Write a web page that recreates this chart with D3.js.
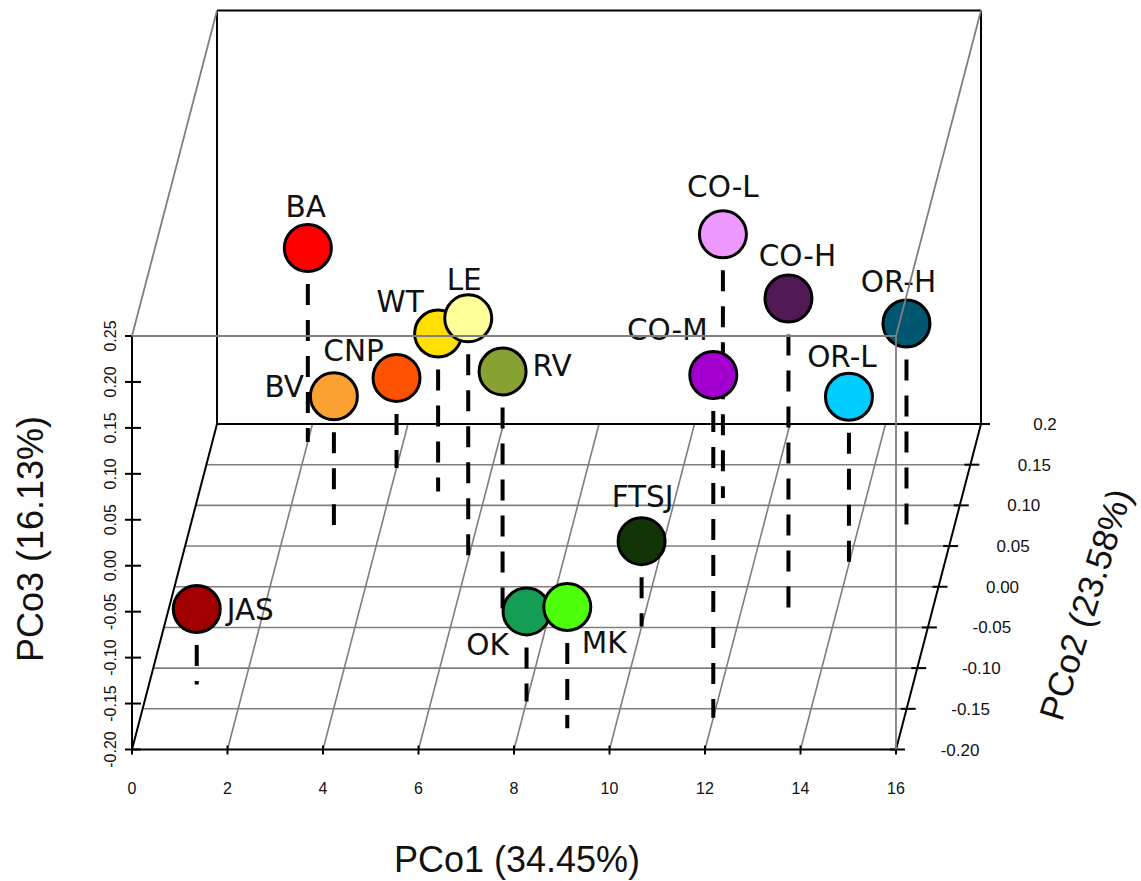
<!DOCTYPE html>
<html>
<head>
<meta charset="utf-8">
<script src="https://cdn.jsdelivr.net/npm/d3@7"></script>
<style>
  html, body { margin: 0; padding: 0; background: #fff; }
  .tick-label { font-family: "Liberation Sans", Arial, sans-serif; font-size: 16px; fill: #111; }
  .tick-label--y { font-size: 17px; }
  .axis-title { font-family: "Liberation Sans", Arial, sans-serif; font-size: 36px; fill: #111; }
  .site-label { font-family: "DejaVu Sans", Verdana, sans-serif; font-size: 29.5px; fill: #111; }
</style>
</head>
<body>
<div id="chart"></div>
<script>
const WIDTH = 1141;
const HEIGHT = 881;

// PCoA scores per site (x = PCo1, depth = PCo2, height = PCo3)
const sites = ["JAS", "BA", "BV", "CNP", "WT", "LE", "RV", "OK", "MK", "FTSJ", "CO-L", "CO-M", "CO-H", "OR-L", "OR-H"];
const pco1 = [1, 2, 3, 4, 5, 6, 7, 8, 9, 10, 11, 12, 13, 14, 15];
const pco2 = [-0.120, 0.178, 0.076, 0.146, 0.117, 0.034, -0.029, -0.141, -0.174, -0.049, 0.109, -0.161, -0.032, 0.028, 0.074];
const pco3 = [-0.118, 0.011, -0.060, -0.102, -0.028, 0.062, 0.060, -0.102, -0.068, -0.107, 0.087, 0.173, 0.142, -0.018, 0.021];
const siteColors = ["#a10000", "#ff0000", "#fba132", "#ff5200", "#ffe000", "#ffff99", "#88a133", "#149e54", "#4dff0a", "#123507", "#ee99ff", "#a300d0", "#511a56", "#00ccff", "#025770"];

const xTicks = [0, 2, 4, 6, 8, 10, 12, 14, 16];
const yTicks = [-0.20, -0.15, -0.10, -0.05, 0.00, 0.05, 0.10, 0.15, 0.20];
const yTickLabels = ["-0.20", "-0.15", "-0.10", "-0.05", "0.00", "0.05", "0.10", "0.15", "0.2"];
const zTicks = [-0.20, -0.15, -0.10, -0.05, 0.00, 0.05, 0.10, 0.15, 0.20, 0.25];
const zTickLabels = ["-0.20", "-0.15", "-0.10", "-0.05", "0.00", "0.05", "0.10", "0.15", "0.20", "0.25"];

// label placement relative to circle centre: [dx, dy, anchor]
const LABEL_POS = {
  "JAS": [30, 11, "start"], "BA": [-2, -31, "middle"], "BV": [-30, 1, "end"],
  "CNP": [-43, -17, "middle"], "WT": [-38, -21, "middle"], "LE": [-4, -28, "middle"],
  "RV": [30, 5, "start"], "OK": [-39, 44, "middle"], "MK": [37, 46, "middle"],
  "FTSJ": [1, -34, "middle"], "CO-L": [0, -37, "middle"], "CO-M": [-46, -35, "middle"],
  "CO-H": [9, -33, "middle"], "OR-L": [-7, -30, "middle"], "OR-H": [-8, -31, "middle"]
};

// box geometry
const X0 = 132, X1 = 896, FLOOR = 749.5, DEPTH_DX = 85, DEPTH_DY = 325.5, Z_H = 413.5;
const R = 23.5;

const x = d3.scaleLinear().domain([0, 16]).range([X0, X1]);
const depth = d3.scaleLinear().domain([-0.2, 0.2]).range([0, 1]);
const z = d3.scaleLinear().domain([-0.2, 0.25]).range([0, Z_H]);

function proj(px, py, pz) {
  const t = depth(py);
  return [x(px) + t * DEPTH_DX, FLOOR - t * DEPTH_DY - z(pz)];
}

const svg = d3.select("#chart").append("svg")
  .attr("width", WIDTH).attr("height", HEIGHT)
  .attr("viewBox", `0 0 ${WIDTH} ${HEIGHT}`);

svg.append("rect").attr("width", WIDTH).attr("height", HEIGHT).attr("fill", "#fff");

function seg(g, a, b, stroke, w) {
  g.append("line")
    .attr("x1", a[0]).attr("y1", a[1]).attr("x2", b[0]).attr("y2", b[1])
    .attr("stroke", stroke).attr("stroke-width", w);
}

const GRAY = "#7f7f7f";
const zMin = -0.2, zMax = 0.25, yMin = -0.2, yMax = 0.2;

// —— floor grid ——
const grid = svg.append("g");
yTicks.slice(1, -1).forEach(v => seg(grid, proj(0, v, zMin), proj(16, v, zMin), GRAY, 1.6));
xTicks.slice(1, -1).forEach(v => seg(grid, proj(v, yMin, zMin), proj(v, yMax, zMin), GRAY, 1.6));

// —— back box + axes (black) ——
const box = svg.append("g");
seg(box, proj(0, yMin, zMin), proj(16, yMin, zMin), "#000", 2.2);
seg(box, proj(0, yMin, zMin), proj(0, yMax, zMin), "#000", 2);
seg(box, proj(16, yMin, zMin), proj(16, yMax, zMin), "#000", 2);
seg(box, proj(0, yMax, zMin), proj(16, yMax, zMin), "#000", 2);
seg(box, proj(0, yMax, zMin), proj(0, yMax, zMax), "#000", 2);
seg(box, proj(16, yMax, zMin), proj(16, yMax, zMax), "#000", 2);
seg(box, proj(0, yMax, zMax), proj(16, yMax, zMax), "#000", 2.2);
seg(box, proj(0, yMin, zMin), proj(0, yMin, zMax), "#000", 2);

// x ticks + labels
const xAxis = svg.append("g");
xTicks.forEach(v => {
  const p = proj(v, yMin, zMin);
  seg(xAxis, [p[0], p[1] - 4], [p[0], p[1] + 5], "#000", 2);
});
xAxis.selectAll("text").data(xTicks).join("text")
  .attr("class", "tick-label")
  .attr("x", d => x(d)).attr("y", 794)
  .attr("text-anchor", "middle")
  .text(d => d);

// z ticks + labels (left, rotated)
const zAxis = svg.append("g");
zTicks.forEach(v => {
  const p = proj(0, yMin, v);
  seg(zAxis, [p[0] - 7, p[1]], [p[0] + 9, p[1]], "#000", 2);
});
zAxis.selectAll("text").data(zTicks).join("text")
  .attr("class", "tick-label")
  .attr("transform", d => `translate(116,${proj(0, yMin, d)[1]}) rotate(-90)`)
  .attr("text-anchor", "middle")
  .text((d, i) => zTickLabels[i]);

// y (depth) ticks + labels (right)
const yAxis = svg.append("g");
yTicks.forEach(v => {
  const p = proj(16, v, zMin);
  seg(yAxis, [p[0] - 6, p[1]], [p[0] + 9, p[1]], "#000", 2);
});
yAxis.selectAll("text").data(yTicks).join("text")
  .attr("class", "tick-label tick-label--y")
  .attr("x", d => proj(16, d, zMin)[0] + 64)
  .attr("y", d => proj(16, d, zMin)[1] + 6)
  .attr("text-anchor", "middle")
  .text((d, i) => yTickLabels[i]);

// —— points ——
const points = sites.map((s, i) => {
  const p = proj(pco1[i], pco2[i], pco3[i]);
  const f = proj(pco1[i], pco2[i], zMin);
  return { name: s, cx: p[0], cy: p[1], fy: f[1], color: siteColors[i] };
});

svg.append("g").selectAll("line").data(points).join("line")
  .attr("x1", d => d.cx).attr("y1", d => d.cy)
  .attr("x2", d => d.cx).attr("y2", d => d.fy)
  .attr("stroke", "#000").attr("stroke-width", 4)
  .attr("stroke-dasharray", "21 15");

svg.append("g").selectAll("circle").data(points).join("circle")
  .attr("cx", d => d.cx).attr("cy", d => d.cy).attr("r", R)
  .attr("fill", d => d.color)
  .attr("stroke", "#000").attr("stroke-width", 3);

svg.append("g").selectAll("text").data(points).join("text")
  .attr("class", "site-label")
  .attr("x", d => d.cx + LABEL_POS[d.name][0])
  .attr("y", d => d.cy + LABEL_POS[d.name][1])
  .attr("text-anchor", d => LABEL_POS[d.name][2])
  .text(d => d.name);

// —— front box edges (gray, drawn over points) ——
const front = svg.append("g");
seg(front, proj(0, yMin, zMax), proj(16, yMin, zMax), GRAY, 1.8);
seg(front, proj(16, yMin, zMin), proj(16, yMin, zMax), GRAY, 1.8);
seg(front, proj(0, yMin, zMax), proj(0, yMax, zMax), GRAY, 1.8);
seg(front, proj(16, yMin, zMax), proj(16, yMax, zMax), GRAY, 1.8);

// —— axis titles ——
svg.append("text").attr("class", "axis-title")
  .attr("x", 517).attr("y", 872).attr("text-anchor", "middle")
  .text("PCo1 (34.45%)");

svg.append("text").attr("class", "axis-title")
  .attr("transform", "translate(43,539) rotate(-90)").attr("text-anchor", "middle")
  .text("PCo3 (16.13%)");

svg.append("text").attr("class", "axis-title")
  .style("font-size", "35px")
  .attr("transform", "translate(1097,608) rotate(-73)").attr("text-anchor", "middle")
  .text("PCo2 (23.58%)");
</script>
</body>
</html>
